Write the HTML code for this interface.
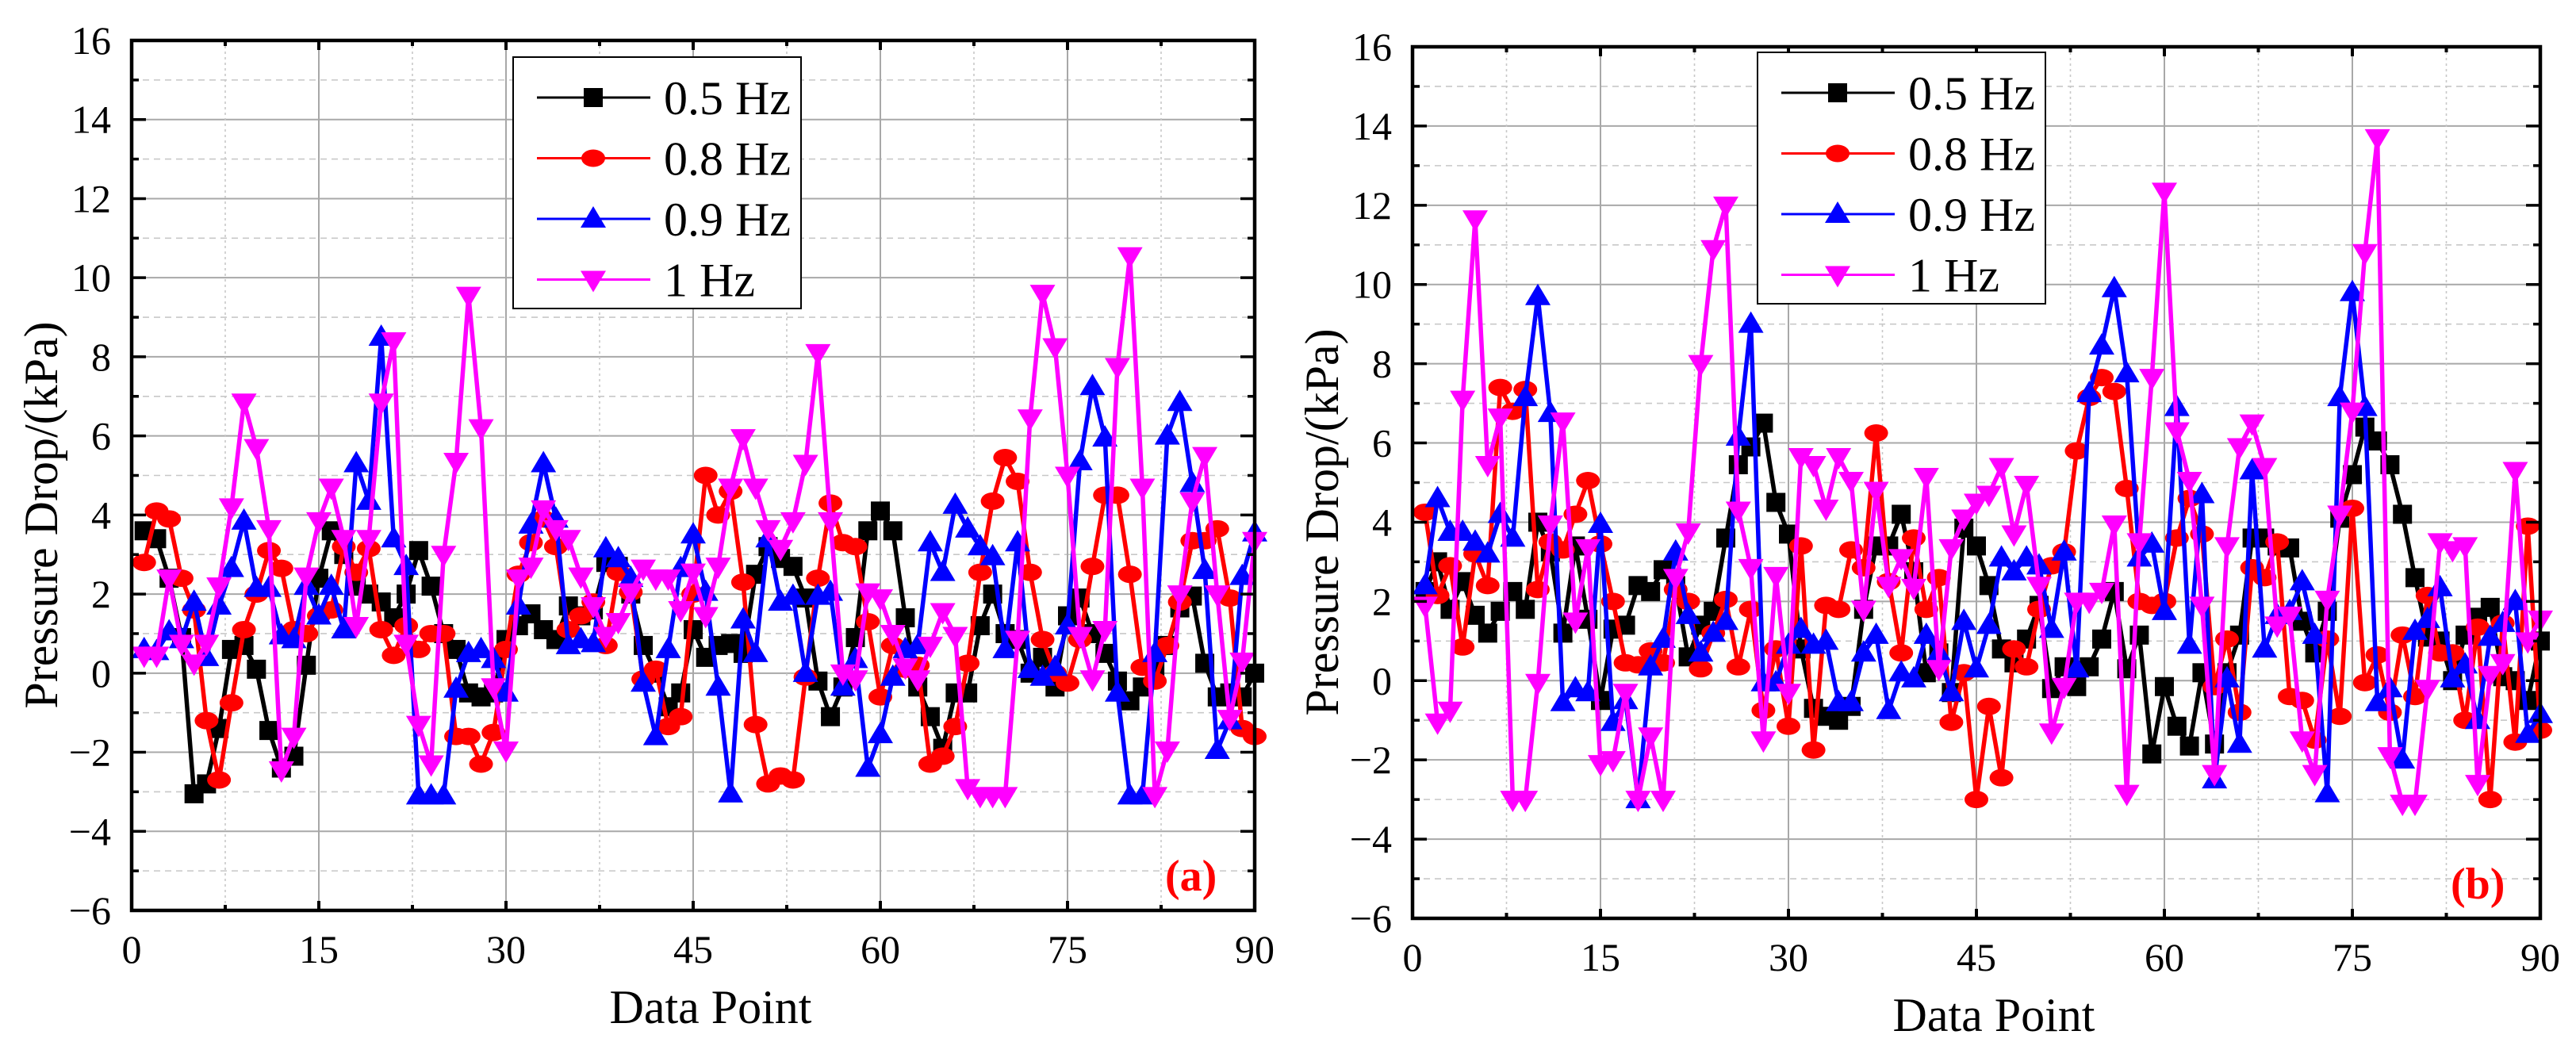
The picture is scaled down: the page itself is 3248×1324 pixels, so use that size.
<!DOCTYPE html>
<html><head><meta charset="utf-8"><style>
html,body{margin:0;padding:0;background:#fff;}
svg{display:block;font-family:"Liberation Serif",serif;}
</style></head><body>
<svg id="chart" width="3248" height="1324" viewBox="0 0 3248 1324" xmlns="http://www.w3.org/2000/svg"></svg>
<script>
const xTicks = [0,15,30,45,60,75,90];
const yTicks = [-6,-4,-2,0,2,4,6,8,10,12,14,16];
const seriesLabels = ["0.5 Hz","0.8 Hz","0.9 Hz","1 Hz"];
const aBlack = [3.6,3.4,2.4,0.9,-3.05,-2.8,-1.4,0.6,0.7,0.1,-1.45,-2.4,-2.1,0.2,2.4,3.6,3.0,2.2,2.0,1.8,1.4,2.0,3.1,2.2,1.0,0.6,-0.5,-0.6,-0.5,0.85,1.2,1.5,1.1,0.85,1.7,1.45,1.6,2.8,2.7,2.0,0.7,0,-0.85,-0.5,1.1,0.4,0.7,0.75,0.5,2.5,3.2,2.9,2.7,1.9,-0.2,-1.1,-0.35,0.9,3.6,4.1,3.6,1.4,-0.35,-1.1,-1.9,-0.5,-0.5,1.2,2.0,1.0,0.85,0,0.4,-0.35,1.45,1.9,1.0,0.5,-0.2,-0.7,-0.35,0.15,0.7,1.65,1.95,0.25,-0.6,-0.5,-0.6,0];
const aRed = [2.8,4.1,3.9,2.4,1.6,-1.2,-2.7,-0.75,1.1,2.0,3.1,2.65,1.1,1.0,1.45,1.6,3.2,2.55,3.15,1.1,0.45,1.2,0.6,1.0,1.0,-1.6,-1.6,-2.3,-1.5,0.6,2.5,3.3,3.9,3.2,1.1,1.45,1.8,0.7,2.55,2.05,-0.15,0.1,-1.35,-1.1,2.0,5.0,4.0,4.6,2.3,-1.3,-2.8,-2.6,-2.7,-0.1,2.4,4.3,3.3,3.2,1.3,-0.6,0.7,0.1,0.2,-2.3,-2.1,-1.35,0.25,2.55,4.35,5.45,4.85,2.55,0.85,0,-0.25,0.85,2.7,4.5,4.5,2.5,0.15,-0.2,0.7,1.8,3.35,3.35,3.65,1.9,-1.4,-1.6];
const aBlue = [0.6,0.55,1.05,0.85,1.8,0.4,1.7,2.65,3.85,2.15,2.15,0.95,0.85,2.2,1.45,2.2,1.1,5.3,4.35,8.5,3.4,2.7,-3.1,-3.1,-3.1,-0.4,0.5,0.6,0.35,-0.5,1.7,3.75,5.3,3.9,0.7,0.85,0.75,3.15,2.9,2.4,-0.25,-1.6,0.6,2.65,3.5,2.05,-0.35,-3.05,1.35,0.5,3.4,1.8,1.95,0,1.95,2.05,-0.35,0.35,-2.4,-1.55,-0.1,0.6,0.7,3.3,2.55,4.25,3.65,3.2,2.95,0.6,3.3,0.1,-0.1,0.15,1.2,5.35,7.25,5.95,-0.5,-3.1,-3.1,0.5,6.0,6.85,4.8,2.6,-1.95,-1.2,2.45,3.55];
const aMagenta = [0.45,0.45,2.4,0.75,0.25,0.75,2.2,4.2,6.85,5.7,3.65,-2.45,-1.6,2.45,3.85,4.7,3.4,1.2,3.4,6.85,8.4,0.75,-1.3,-2.3,3.0,5.35,9.55,6.2,-0.35,-1.95,2.4,2.7,4.15,3.65,3.4,2.45,1.7,0.95,1.3,2.05,2.65,2.4,2.4,1.6,2.55,1.45,2.7,4.7,5.95,4.7,3.65,3.15,3.85,5.3,8.1,3.85,0,-0.15,2.05,1.9,1.0,0.15,-0.15,0.7,1.55,0.95,-2.9,-3.1,-3.1,-3.1,0.85,6.45,9.6,8.25,5.0,0.95,-0.15,1.1,7.75,10.55,4.7,-3.1,-1.95,2.0,4.35,5.5,2.0,-1.15,0.3,3.35];
const bBlack = [2.25,3.0,1.8,2.5,1.65,1.2,1.75,2.25,1.8,4.0,3.25,1.2,3.4,1.55,-0.5,1.3,1.4,2.4,2.25,2.8,2.4,0.6,1.4,1.75,3.6,5.45,5.9,6.5,4.5,3.7,0.8,-0.7,-0.9,-1.0,-0.65,1.8,3.4,3.4,4.2,2.75,0.2,0.7,-0.3,3.85,3.4,2.4,0.8,0.45,1.05,1.9,-0.2,0.35,-0.15,0.35,1.05,2.25,0.3,1.15,-1.85,-0.15,-1.15,-1.65,0.2,-1.6,0.2,1.15,3.6,3.6,3.4,3.35,1.5,0.7,1.75,4.1,5.2,6.4,6.05,5.45,4.2,2.6,1.1,1.0,0,1.15,1.6,1.85,0.1,0,-0.5,1.0];
const bRed = [4.25,2.15,2.9,0.85,3.2,2.4,7.4,6.8,7.35,2.3,3.5,3.3,4.2,5.05,3.45,2.0,0.45,0.4,0.75,0.45,2.3,2.0,0.3,1.2,2.05,0.35,1.8,-0.75,0.8,-1.15,3.4,-1.75,1.9,1.8,3.3,2.85,6.25,2.5,0.7,3.6,1.8,2.6,-1.05,0.2,-3.0,-0.65,-2.45,0.8,0.35,1.8,2.9,3.25,5.8,7.15,7.65,7.3,4.85,2.0,1.9,2.0,3.6,4.6,3.7,-0.15,1.05,-0.8,2.85,2.6,3.5,-0.4,-0.5,-1.5,1.05,-0.9,4.35,-0.05,0.65,-0.8,1.15,-0.4,2.15,0.7,0.7,-1.0,1.35,-3.0,1.45,-1.55,3.9,-1.25];
const bBlue = [2.4,4.6,3.75,3.75,3.5,3.2,4.2,3.6,7.15,9.7,6.75,-0.55,-0.2,-0.3,3.95,-1.05,-0.5,-3.0,0.35,1.05,3.25,1.65,0.7,1.2,1.5,6.15,9.0,-0.05,-0.05,0.9,1.3,0.9,1.0,-0.55,-0.55,0.7,1.15,-0.75,0.2,0.05,1.15,0.7,-0.3,1.5,0.3,1.4,3.1,2.75,3.1,2.9,1.3,3.25,0.3,7.25,8.45,9.9,7.75,3.1,3.45,1.75,6.9,0.9,4.7,-2.5,0.05,-1.6,5.3,0.8,1.65,1.75,2.5,1.15,-2.85,7.15,9.8,6.9,-0.55,-0.2,-2.0,1.25,1.55,2.35,0.05,0.4,-1.0,1.1,1.45,2.0,-1.35,-0.85];
const bMagenta = [1.9,-1.05,-0.75,7.1,11.65,5.45,6.65,-3.0,-3.0,-0.05,3.95,6.55,1.5,3.35,-2.1,-2.0,-0.3,-3.0,-1.4,-3.0,2.6,3.75,8.0,10.9,12.0,4.3,2.85,-1.5,2.65,-0.3,5.65,5.45,4.35,5.65,5.05,1.8,4.8,2.4,3.1,2.35,5.15,0.3,3.35,4.1,4.5,4.7,5.4,3.7,4.95,2.4,-1.3,-0.15,2.0,2.0,2.25,3.95,-2.85,3.5,7.65,12.35,6.3,5.05,1.9,-2.35,3.4,5.9,6.5,5.4,1.4,1.65,-1.5,-2.35,2.05,4.2,6.8,10.8,13.7,-1.9,-3.1,-3.1,-0.2,3.5,3.3,3.4,-2.6,0.15,0.45,5.3,1.0,1.55];

const NS = "http://www.w3.org/2000/svg";
const svg = document.getElementById('chart');
const colors = ["#000000","#ff0000","#0000ff","#ff00ff"];
const markerKinds = ["square","circle","up","down"];
function mk(tag, attrs, parent){
  const e = document.createElementNS(NS, tag);
  for (const k in attrs) e.setAttribute(k, attrs[k]);
  (parent||svg).appendChild(e);
  return e;
}
function drawMarker(g, kind, x, y, color){
  let m;
  if (kind==="square") m = mk('rect',{x:x-12,y:y-12,width:24,height:24,fill:color},g);
  else if (kind==="circle") m = mk('ellipse',{cx:x,cy:y,rx:15,ry:11,fill:color},g);
  else if (kind==="up") m = mk('polygon',{points:`${x-16},${y+11} ${x+16},${y+11} ${x},${y-16}`,fill:color},g);
  else m = mk('polygon',{points:`${x-16},${y-11} ${x+16},${y-11} ${x},${y+16}`,fill:color},g);
  return m;
}
function panel(cfg){
  const {x0,x1,yTop,yBot,series,tag,legend} = cfg;
  const sx = v => x0 + (v-0)/(90-0)*(x1-x0);
  const sy = v => yBot - (v-(-6))/(16-(-6))*(yBot-yTop);
  const g = mk('g',{});
  
  
  const grid = mk('g',{},g);
  
  
  for (let v=-5; v<16; v++){
    const major = (v%2===0);
    mk('line',{x1:x0,x2:x1,y1:sy(v),y2:sy(v),stroke:major?"#a8a8a8":"#c8c8c8","stroke-width":major?2:1.6,"stroke-dasharray":major?"":"8,6"},grid);
  }
  for (let v=7.5; v<90; v+=7.5){
    const major = (v%15===0);
    mk('line',{x1:sx(v),x2:sx(v),y1:yTop,y2:yBot,stroke:major?"#a8a8a8":"#c8c8c8","stroke-width":major?2:1.6,"stroke-dasharray":major?"":"3,4"},grid);
  }
  series.forEach((vals,si)=>{
    const sg = mk('g',{},g);
    
    
    const pts = vals.map((v,i)=>`${sx(i+1)},${sy(v)}`).join(' ');
    const pl = mk('polyline',{points:pts,fill:"none",stroke:colors[si],"stroke-width":5.5,"stroke-linejoin":"round"},sg);
    
    
    vals.forEach((v,i)=>{
      const m = drawMarker(sg, markerKinds[si], sx(i+1), sy(v), colors[si]);
      
      
    });
  });
  const ax = mk('g',{},g);
  
  
  for (let v=-5; v<16; v++){
    const len = (v%2===0)?18:9;
    mk('line',{x1:x0,x2:x0+len,y1:sy(v),y2:sy(v),stroke:"#000","stroke-width":3.5},ax);
    mk('line',{x1:x1,x2:x1-len,y1:sy(v),y2:sy(v),stroke:"#000","stroke-width":3.5},ax);
  }
  for (let v=7.5; v<90; v+=7.5){
    const len = (v%15===0)?12:7;
    mk('line',{x1:sx(v),x2:sx(v),y1:yBot,y2:yBot-len,stroke:"#000","stroke-width":4},ax);
    mk('line',{x1:sx(v),x2:sx(v),y1:yTop,y2:yTop+len,stroke:"#000","stroke-width":4},ax);
  }
  mk('rect',{x:x0,y:yTop,width:x1-x0,height:yBot-yTop,fill:"none",stroke:"#000","stroke-width":4.5},ax);
  yTicks.forEach(v=>{
    const t = mk('text',{x:x0-26,y:sy(v)+17,"text-anchor":"end","font-size":50},ax);
    t.textContent = (v<0?"\u2212"+(-v):String(v));
    
    
  });
  xTicks.forEach(v=>{
    const t = mk('text',{x:sx(v),y:yBot+66,"text-anchor":"middle","font-size":50},ax);
    t.textContent = String(v);
    
    
  });
  const xt = mk('text',{x:(x0+x1)/2+22,y:yBot+142,"text-anchor":"middle","font-size":60},g);
  xt.textContent = "Data Point";
  
  
  const ycx = x0-114, ycy = (yTop+yBot)/2+50;
  const yt = mk('text',{x:ycx,y:ycy,"text-anchor":"middle","dominant-baseline":"central","font-size":60,transform:`rotate(-90 ${ycx} ${ycy})`},g);
  yt.textContent = "Pressure Drop/(kPa)";
  
  
  const pl = mk('text',{x:x1-113,y:yBot-25,"font-size":56,"font-weight":"bold",fill:"#ff0000"},g);
  pl.textContent = "("+tag+")";
  
  
  const lg = mk('g',{},g);
  
  
  mk('rect',{x:legend.x,y:legend.y,width:363,height:317,fill:"#fff",stroke:"#000","stroke-width":2},lg);
  seriesLabels.forEach((lab,si)=>{
    const ry = legend.y+51+si*76.5;
    const e = mk('g',{},lg);
    
    
    mk('line',{x1:legend.x+30,x2:legend.x+173,y1:ry,y2:ry,stroke:colors[si],"stroke-width":3},e);
    drawMarker(e, markerKinds[si], legend.x+101, ry, colors[si]);
    const t = mk('text',{x:legend.x+190,y:ry+21,"font-size":60},e);
    t.textContent = lab;
  });
}
panel({x0:166,x1:1582,yTop:51,yBot:1148,series:[aBlack,aRed,aBlue,aMagenta],tag:"a",legend:{x:647,y:72}});
panel({x0:1781,x1:3203,yTop:59,yBot:1158,series:[bBlack,bRed,bBlue,bMagenta],tag:"b",legend:{x:2216,y:66}});
</script>
</body></html>
